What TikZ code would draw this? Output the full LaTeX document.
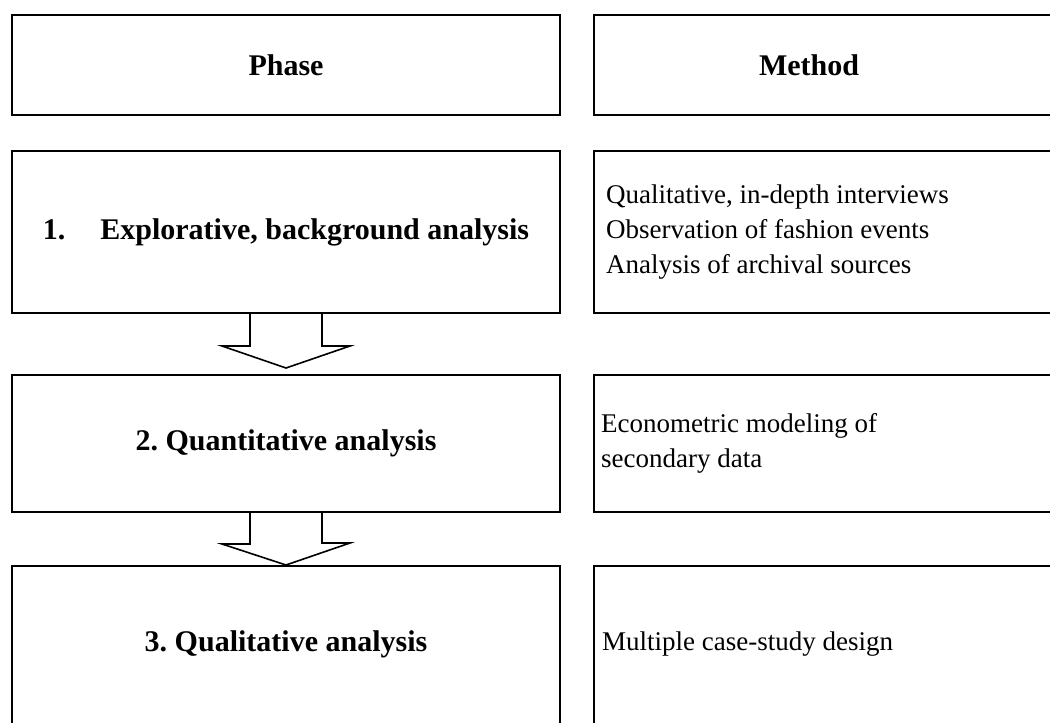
\documentclass[tikz,border=0pt]{standalone}
\usepackage{fontspec}
\setmainfont{Liberation Serif}
\usetikzlibrary{positioning, calc}

\begin{document}
\frenchspacing
\begin{tikzpicture}[
    x=1pt, y=1pt,
    box/.style={rectangle, draw, line width=2pt, minimum width=548pt, inner sep=0pt},
    colbox/.style={rectangle, draw, line width=2pt, minimum width=560pt, inner sep=0pt},
    headtxt/.style={font=\fontsize{30}{36}\selectfont\bfseries, inner sep=0pt},
    methtxt/.style={font=\fontsize{27}{35}\selectfont, align=left, anchor=west, inner sep=0pt},
    blockarrow/.style={draw, line width=1.6pt, line join=miter}
]
\useasboundingbox (0,0) rectangle (1050,-723);
\clip (0,0) rectangle (1050,-723);

% header row
\node[box, minimum height=100pt, headtxt] (ph) at (286,-65) {Phase};
\node[colbox, minimum height=100pt, right=32pt of ph] (mh) {};
\node[headtxt] (mht) at ($(mh.west)+(216,0)$) {Method};

% phases
\node[box, minimum height=162pt, below=34pt of ph, headtxt] (p1) {1.\hspace{35pt}Explorative, background analysis};
\node[box, minimum height=137pt, below=60pt of p1, headtxt] (p2) {2. Quantitative analysis};
\node[box, minimum height=200pt, below=52pt of p2] (p3) {};
\node[headtxt] (p3t) at ($(p3.north)+(0,-79)$) {3. Qualitative analysis};

% methods
\node[colbox, minimum height=162pt, right=32pt of p1] (m1) {};
\node[colbox, minimum height=137pt, right=32pt of p2] (m2) {};
\node[colbox, minimum height=200pt, right=32pt of p3] (m3) {};
\node[methtxt] (m1t) at ($(m1.west)+(13,0)$) {Qualitative, in-depth interviews\\Observation of fashion events\\Analysis of archival sources};
\node[methtxt] (m2t) at ($(m2.west)+(8,0)$) {Econometric modeling of\\secondary data};
\node[methtxt] (m3t) at ($(m3.north west)+(9,-79)$) {Multiple case-study design};

% block arrows between phases
\draw[blockarrow] ($(p1.south)+(-36,0)$) -- ++(0,-32) -- ++(-28,0) -- ($(p1.south)+(0,-54)$) -- ++(64,22) -- ++(-28,0) -- ++(0,32);
\draw[blockarrow] ($(p2.south)+(-36,0)$) -- ++(0,-31) -- ++(-28,0) -- (p3.north) -- ++(64,22) -- ++(-28,0) -- ++(0,31);
\end{tikzpicture}
\end{document}
